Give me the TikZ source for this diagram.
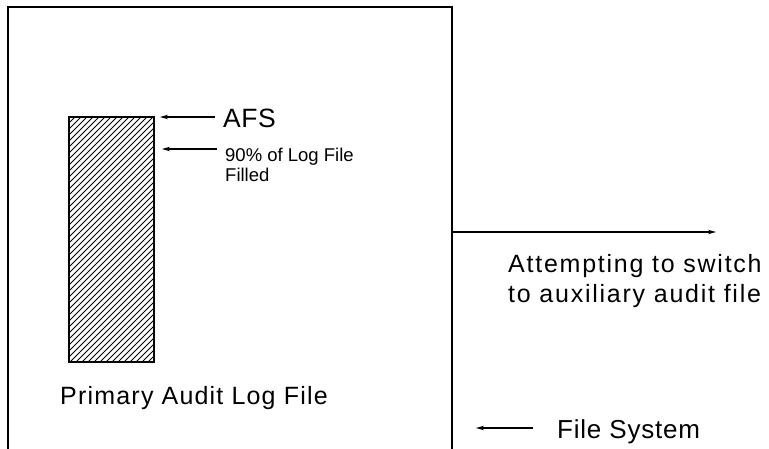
\documentclass[tikz,border=0pt]{standalone}
\usepackage{fontspec}
\setmainfont{Liberation Sans}
\usetikzlibrary{arrows.meta}
\tikzset{
  big/.style={inner sep=0pt, anchor=base west, font=\fontsize{25}{30}\selectfont},
  small/.style={inner sep=0pt, anchor=base west, align=left, font=\fontsize{18.5}{20}\selectfont},
  conn/.style={line width=1.1pt, -{Stealth[length=8pt,width=4.5pt]}},
  frame/.style={line width=1.3pt},
  hatch/.style={line width=1pt}
}
\begin{document}
\begin{tikzpicture}[x=1pt,y=1pt]
\useasboundingbox (0,0) rectangle (769,-449);
% file system frame (open bottom)
\draw[frame] (8,-449) -- (8,-7) -- (452,-7) -- (452,-449);
\coordinate (fsright) at (452,-232);
\coordinate (fsedge) at (476,-428);
% primary audit log file (hatched)
\node[draw, line width=1.2pt, minimum width=85pt, minimum height=245pt, inner sep=0pt, anchor=north west] (logfile) at (69,-117) {};
\begin{scope}
  \clip (69,-117) rectangle (154,-362);
  \foreach \i in {0,6,...,336} {
    \draw[hatch] (69-245+\i,-362) -- (69+\i,-117);
  }
\end{scope}
\draw[line width=1.2pt] (69,-117) rectangle (154,-362);
% labels
\node[big, font=\fontsize{26.5}{30}\selectfont] (afs) at (223,-128) {\addfontfeature{LetterSpace=2}AFS};
\node[small] (full) at (225,-162) {90\% of Log File};
\node[small] (filled) at (225,-182) {Filled};
\node[big] (prim) at (60,-404) {\addfontfeature{LetterSpace=4.8}Primary Audit Log File};
\node[big] (att) at (508,-273) {\addfontfeature{LetterSpace=7}Attempting to switch};
\node[big] (aux) at (508,-303) {\addfontfeature{LetterSpace=7}to auxiliary audit file};
\node[big, font=\fontsize{26}{30}\selectfont] (fs) at (557,-438) {\addfontfeature{LetterSpace=3}File System};
% connectors
\coordinate (afstip) at (160,-117);
\coordinate (afsstart) at (215,-117);
\coordinate (fulltip) at (162,-149);
\coordinate (fullstart) at (217,-149);
\coordinate (attend) at (716,-232);
\coordinate (fsstart) at (533,-428);
\draw[conn] (afsstart) -- (afstip);
\draw[conn] (fullstart) -- (fulltip);
\draw[conn] (fsright) -- (attend);
\draw[conn] (fsstart) -- (fsedge);
\end{tikzpicture}
\end{document}
